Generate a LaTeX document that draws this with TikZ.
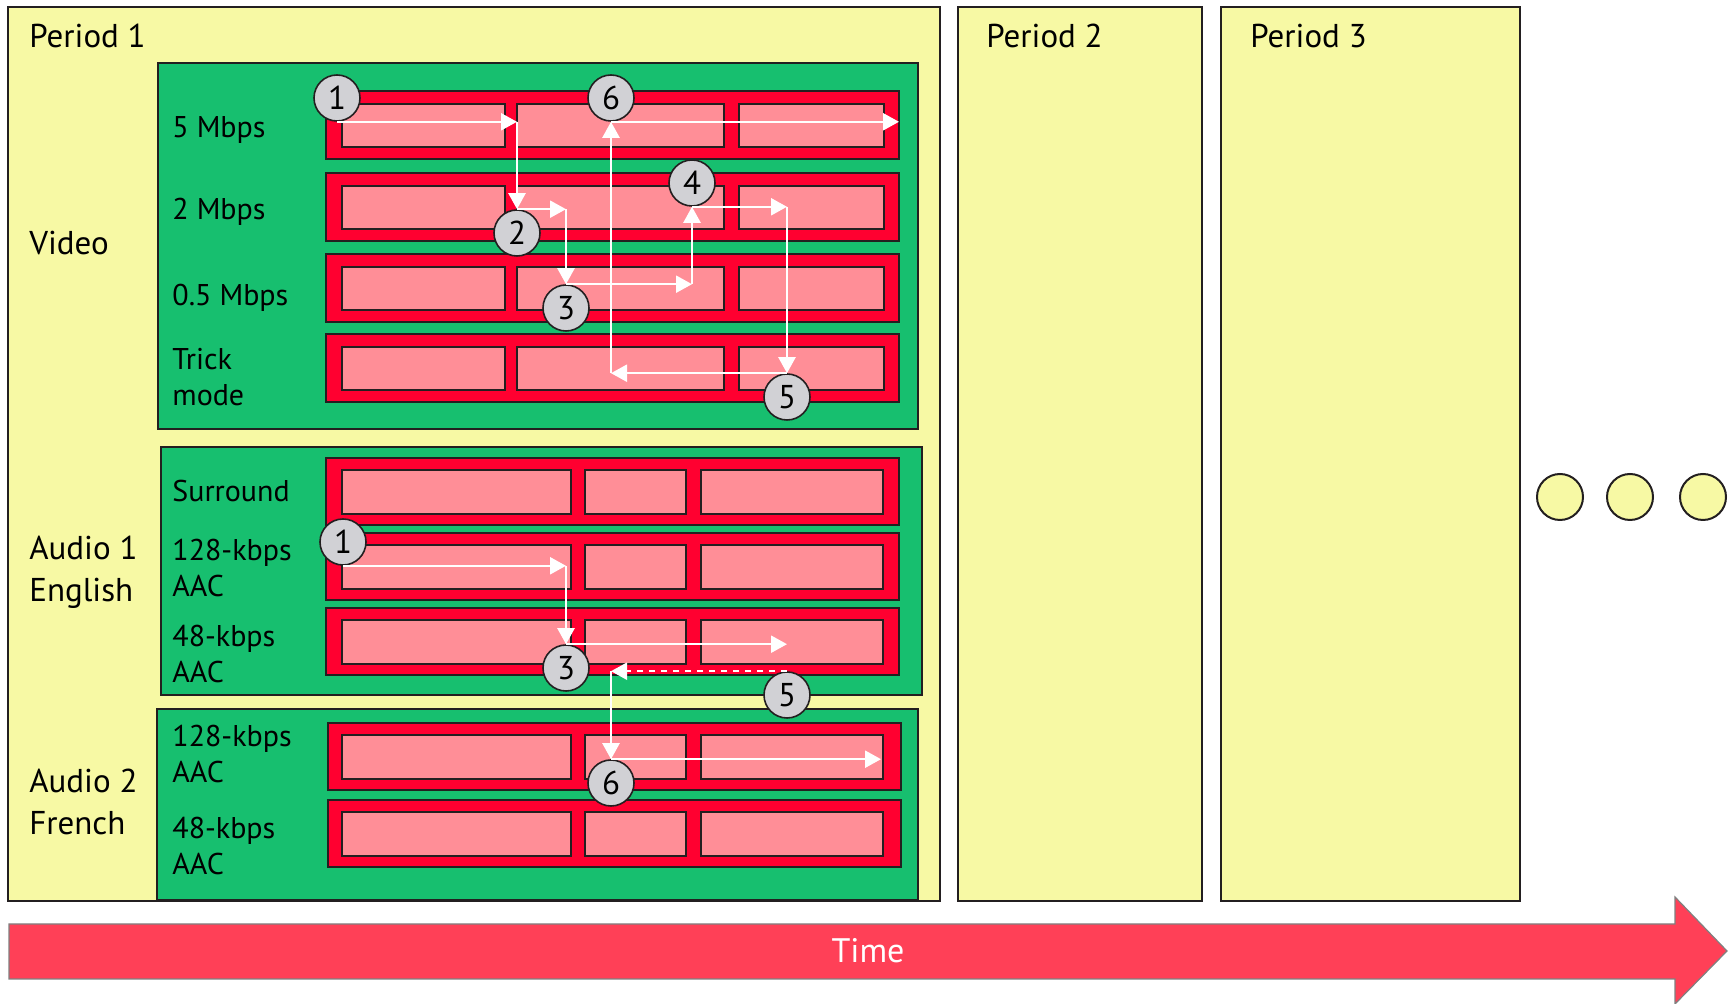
\documentclass[tikz,border=0pt]{standalone}
\usepackage{fontspec}
\setmainfont{PT Sans}
\usetikzlibrary{arrows.meta}
\definecolor{edge}{HTML}{231F20}
\definecolor{paleyellow}{HTML}{F7F9A4}
\definecolor{grpgreen}{HTML}{17BF6F}
\definecolor{trkred}{HTML}{FF0030}
\definecolor{segpink}{HTML}{FF8E97}
\definecolor{numgray}{HTML}{D1D1D5}
\definecolor{timered}{HTML}{FF4057}
\begin{document}
\begin{tikzpicture}[x=0.5pt, y=-0.5pt,
  period/.style={draw=edge, fill=paleyellow, line width=1.2pt},
  group/.style={draw=edge, fill=grpgreen, line width=1pt},
  track/.style={draw=edge, fill=trkred, line width=1pt},
  seg/.style={draw=edge, fill=segpink, line width=1pt},
  num/.style={circle, draw=edge, fill=numgray, line width=0.8pt, minimum size=23pt, inner sep=0pt, font=\fontsize{16.5}{16.5}\selectfont},
  flow/.style={white, line width=1.2pt, -{Triangle[width=8.5pt, length=8pt]}},
  lbl/.style={anchor=base west, inner sep=0pt, align=left, font=\fontsize{15}{18}\selectfont},
  big/.style={anchor=base west, inner sep=0pt, align=left, font=\fontsize{16.5}{21}\selectfont}]
  \useasboundingbox (0,0) rectangle (1731,1004);
  % Periods
  \draw[period] (8,7) rectangle (940,901);
  \draw[period] (958,7) rectangle (1202,901);
  \draw[period] (1221,7) rectangle (1520,901);
  \node[big] (p1) at (29,48) {Period 1};
  \node[big] (p2) at (986,48) {Period 2};
  \node[big] (p3) at (1250,48) {Period 3};
  \foreach \x in {1560,1630,1703}
    \draw[period, line width=1pt] (\x,497) circle (11.5pt);
  % Video
  \draw[group] (158,63) rectangle (918,429);
  \foreach \t in {91,173,254,334} {
    \draw[track] (326,\t) rectangle (899,\t+68);
    \foreach \a/\b in {342/505,517/724,739/884}
      \draw[seg] (\a,\t+13) rectangle (\b,\t+56);
  }
  \node[big] (video) at (29,255) {Video};
  \node[lbl] (r5m) at (172,138) {5 Mbps};
  \node[lbl] (r2m) at (172,220) {2 Mbps};
  \node[lbl] (r05m) at (172,306) {0.5 Mbps};
  \node[lbl] (rtrick) at (172,406) {Trick\\mode};
  % Audio 1
  \draw[group] (161,447) rectangle (922,695);
  \foreach \t in {458,533,608} {
    \draw[track] (326,\t) rectangle (899,\t+67);
    \foreach \a/\b in {342/571,585/686,701/883}
      \draw[seg] (\a,\t+12) rectangle (\b,\t+56);
  }
  \node[big] (aud1) at (29,602) {Audio 1\\English};
  \node[lbl] (rsur) at (172,502) {Surround};
  \node[lbl] (ren128) at (172,597) {128-kbps\\AAC};
  \node[lbl] (ren48) at (172,683) {48-kbps\\AAC};
  % Audio 2
  \draw[group] (157,709) rectangle (918,900);
  \foreach \t in {723,800} {
    \draw[track] (328,\t) rectangle (901,\t+67);
    \foreach \a/\b in {342/571,585/686,701/883}
      \draw[seg] (\a,\t+12) rectangle (\b,\t+56);
  }
  \node[big] (aud2) at (29,835) {Audio 2\\French};
  \node[lbl] (rfr128) at (172,783) {128-kbps\\AAC};
  \node[lbl] (rfr48) at (172,875) {48-kbps\\AAC};
  % Switching steps
  \node[num] (v1) at (337,98) {1};
  \node[num] (v2) at (517,233) {2};
  \node[num] (v3) at (566,308) {3};
  \node[num] (v4) at (692,183) {4};
  \node[num] (v5) at (787,397) {5};
  \node[num] (v6) at (611,98) {6};
  \node[num] (a1) at (343,542) {1};
  \node[num] (a3) at (566,668) {3};
  \node[num] (a5) at (787,695) {5};
  \node[num] (a6) at (611,783) {6};
  \coordinate (vend) at (899,0);
  \coordinate (aend) at (881,0);
  \draw[flow] (v1.south) -- (v1.south -| v2);
  \draw[flow] (v1.south -| v2) -- (v2.north);
  \draw[flow] (v2.north) -- (v2.north -| v3);
  \draw[flow] (v2.north -| v3) -- (v3.north);
  \draw[flow] (v3.north) -- (v3.north -| v4);
  \draw[flow] (v3.north -| v4) -- (v4.south);
  \draw[flow] (v4.south) -- (v4.south -| v5);
  \draw[flow] (v4.south -| v5) -- (v5.north);
  \draw[flow] (v5.north) -- (v5.north -| v6);
  \draw[flow] (v5.north -| v6) -- (v6.south);
  \draw[flow] (v6.south) -- (v6.south -| vend);
  \draw[flow] (a1.south) -- (a1.south -| a3);
  \draw[flow] (a1.south -| a3) -- (a3.north);
  \draw[flow] (a3.north) -- (a3.north -| a5);
  \draw[flow, dashed] (a5.north) -- (a5.north -| a6);
  \draw[flow] (a5.north -| a6) -- (a6.north);
  \draw[flow] (a6.north) -- (a6.north -| aend);
  % Time
  \draw[draw=gray, fill=timered, line width=0.6pt] (9,924) -- (1675,924) -- (1675,897) -- (1727,951)
    -- (1675,1004) -- (1675,979) -- (9,979) -- cycle;
  \node[white, font=\fontsize{17}{17}\selectfont] (time) at (868,951) {Time};
\end{tikzpicture}
\end{document}
